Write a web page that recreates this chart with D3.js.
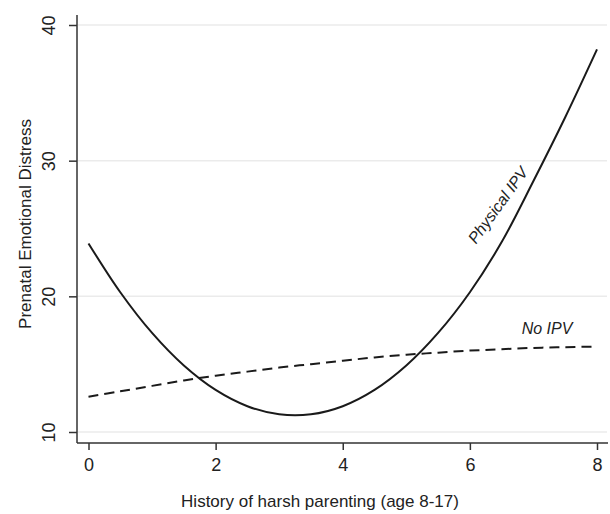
<!DOCTYPE html>
<html lang="en">
<head>
  <meta charset="UTF-8">
  <title>Prenatal Emotional Distress</title>
  <script src="https://cdn.jsdelivr.net/npm/d3@7"></script>
  <style>
    body { margin: 0; background: #fff; }
    svg { display: block; font-family: "Liberation Sans", Arial, sans-serif; }
  </style>
</head>
<body>
  <svg id="chart" width="610" height="514"></svg>
<script>
  // values
  var harshParenting = [0, 0.5, 1, 1.5, 2, 2.5, 3, 3.5, 4, 4.5, 5, 5.5, 6, 6.5, 7, 7.5, 8];
  var physicalIPV = [23.9, 20.3, 17.3, 14.9, 13.1, 11.9, 11.3, 11.3, 11.9, 13.1, 14.9, 17.3, 20.3, 24.0, 28.5, 33.2, 38.2];
  var noIPV = [12.6, 13.0, 13.4, 13.8, 14.15, 14.45, 14.75, 15.0, 15.25, 15.5, 15.7, 15.85, 16.0, 16.1, 16.2, 16.25, 16.3];
  var xTicks = [0, 2, 4, 6, 8];
  var yTicks = [10, 20, 30, 40];

  var svg = d3.select("#chart");

  var x = d3.scaleLinear().domain([0, 8]).range([88.5, 597]);
  var y = d3.scaleLinear().domain([10, 40]).range([432, 25]);

  var axisColor = "#333";

  // gridlines
  svg.append("g")
    .selectAll("line")
    .data(yTicks)
    .join("line")
    .attr("x1", 78).attr("x2", 607)
    .attr("y1", function(d) { return y(d); })
    .attr("y2", function(d) { return y(d); })
    .attr("stroke", "#ebebeb")
    .attr("stroke-width", 1.5);

  // y axis
  var yAxis = svg.append("g")
    .attr("transform", "translate(77,0)")
    .call(d3.axisLeft(y).tickValues(yTicks).tickSize(8).tickPadding(10));
  yAxis.select(".domain").attr("d", "M0,15V443").attr("stroke", axisColor).attr("stroke-width", 1.5);
  yAxis.selectAll(".tick line").attr("stroke", axisColor).attr("stroke-width", 1.5);
  yAxis.selectAll(".tick text")
    .attr("font-size", 18)
    .attr("fill", "#222")
    .attr("text-anchor", "middle")
    .attr("x", null).attr("dy", null)
    .attr("transform", "translate(-22,0) rotate(-90)");

  // x axis
  var xAxis = svg.append("g")
    .attr("transform", "translate(0,443)")
    .call(d3.axisBottom(x).tickValues(xTicks).tickSize(7).tickPadding(8));
  xAxis.select(".domain").attr("d", "M77,0H608").attr("stroke", axisColor).attr("stroke-width", 1.5);
  xAxis.selectAll(".tick line").attr("stroke", axisColor).attr("stroke-width", 1.5);
  xAxis.selectAll(".tick text").attr("font-size", 18).attr("fill", "#222");

  // axis titles
  svg.append("text")
    .attr("transform", "translate(27,224) rotate(-90)")
    .attr("text-anchor", "middle")
    .attr("dominant-baseline", "middle")
    .attr("font-size", 17)
    .attr("fill", "#222")
    .text("Prenatal Emotional Distress");

  svg.append("text")
    .attr("x", 320).attr("y", 507)
    .attr("text-anchor", "middle")
    .attr("font-size", 17)
    .attr("fill", "#222")
    .text("History of harsh parenting (age 8-17)");

  // lines
  var line = d3.line()
    .x(function(d, i) { return x(harshParenting[i]); })
    .y(function(d) { return y(d); })
    .curve(d3.curveCatmullRom.alpha(0.5));

  svg.append("path")
    .attr("d", line(noIPV))
    .attr("fill", "none")
    .attr("stroke", "#1a1a1a")
    .attr("stroke-width", 2)
    .attr("stroke-dasharray", "10,6");

  svg.append("path")
    .attr("d", line(physicalIPV))
    .attr("fill", "none")
    .attr("stroke", "#1a1a1a")
    .attr("stroke-width", 2);

  // line labels
  svg.append("text")
    .attr("x", 547).attr("y", 330)
    .attr("text-anchor", "middle")
    .attr("dominant-baseline", "middle")
    .attr("font-size", 16)
    .attr("font-style", "italic")
    .attr("fill", "#222")
    .text("No IPV");

  svg.append("text")
    .attr("transform", "translate(499,206) rotate(-54)")
    .attr("text-anchor", "middle")
    .attr("dominant-baseline", "middle")
    .attr("font-size", 16)
    .attr("font-style", "italic")
    .attr("fill", "#222")
    .text("Physical IPV");
</script>
</body>
</html>
